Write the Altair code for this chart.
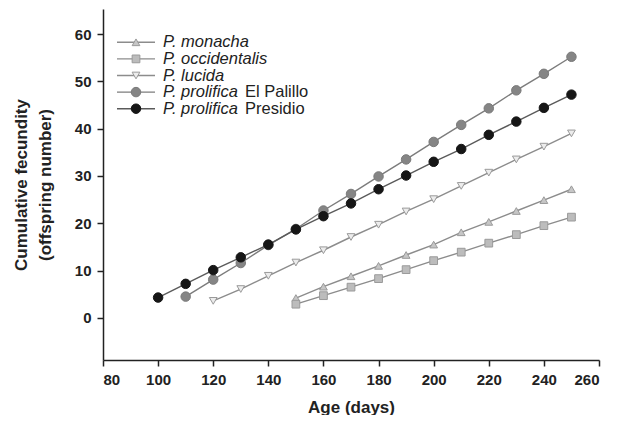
import altair as alt
import pandas as pd

# ---- data ----
series_names = [
    "P. monacha",
    "P. occidentalis",
    "P. lucida",
    "P. prolifica El Palillo",
    "P. prolifica Presidio",
]
italic_part = ["P. monacha", "P. occidentalis", "P. lucida", "P. prolifica", "P. prolifica"]
regular_part = ["", "", "", "El Palillo", "Presidio"]

monacha_days = [150, 160, 170, 180, 190, 200, 210, 220, 230, 240, 250]
monacha_vals = [4.2, 6.6, 8.8, 11.0, 13.3, 15.5, 18.1, 20.3, 22.6, 24.9, 27.2]

occidentalis_days = [150, 160, 170, 180, 190, 200, 210, 220, 230, 240, 250]
occidentalis_vals = [2.9, 4.7, 6.5, 8.3, 10.2, 12.1, 13.9, 15.8, 17.6, 19.5, 21.3]

lucida_days = [120, 130, 140, 150, 160, 170, 180, 190, 200, 210, 220, 230, 240, 250]
lucida_vals = [3.6, 6.1, 8.9, 11.7, 14.3, 17.1, 19.7, 22.5, 25.1, 27.9, 30.7, 33.5, 36.2, 39.0]

palillo_days = [110, 120, 130, 140, 150, 160, 170, 180, 190, 200, 210, 220, 230, 240, 250]
palillo_vals = [4.5, 8.1, 11.6, 15.4, 18.8, 22.7, 26.2, 29.9, 33.5, 37.2, 40.8, 44.3, 48.1, 51.6, 55.2]

presidio_days = [100, 110, 120, 130, 140, 150, 160, 170, 180, 190, 200, 210, 220, 230, 240, 250]
presidio_vals = [4.3, 7.2, 10.1, 12.8, 15.5, 18.7, 21.5, 24.2, 27.2, 30.1, 33.0, 35.7, 38.7, 41.5, 44.4, 47.2]

x_ticks = [80, 100, 120, 140, 160, 180, 200, 220, 240, 260]
y_ticks = [0, 10, 20, 30, 40, 50, 60]

# ---- styles ----
shapes = ["triangle-up", "square", "triangle-down", "circle", "circle"]
fills = ["#c6c6c6", "#bcbcbc", "#ececec", "#858585", "#161616"]
strokes = ["#9a9a9a", "#9a9a9a", "#9a9a9a", "#7a7a7a", "#161616"]
line_colors = ["#8c8c8c", "#8c8c8c", "#8c8c8c", "#7c7c7c", "#5a5a5a"]
sizes = [60, 60, 60, 90, 90]

all_days = [monacha_days, occidentalis_days, lucida_days, palillo_days, presidio_days]
all_vals = [monacha_vals, occidentalis_vals, lucida_vals, palillo_vals, presidio_vals]

FONT = "Liberation Sans"
W, H = 496, 351

x_scale = alt.Scale(domain=[80, 260], nice=False, zero=False)
y_scale = alt.Scale(domain=[-8.9, 65.3], nice=False, zero=False)

x_axis = alt.Axis(values=x_ticks, title="Age (days)", format="d")
y_axis = alt.Axis(values=y_ticks, title=["Cumulative fecundity", "(offspring number)"], format="d")

layers = []
for i, name in enumerate(series_names):
    df = pd.DataFrame({"day": all_days[i], "value": all_vals[i], "series": name})
    base = alt.Chart(df).encode(
        x=alt.X("day:Q", scale=x_scale, axis=x_axis),
        y=alt.Y("value:Q", scale=y_scale, axis=y_axis),
    )
    line = base.mark_line(color=line_colors[i], strokeWidth=1.4)
    pts = base.mark_point(
        shape=shapes[i], filled=True, fill=fills[i], stroke=strokes[i],
        strokeWidth=1, size=sizes[i], opacity=1,
    )
    layers += [line, pts]

series_layer = alt.layer(*layers)

# ---- legend (drawn inside the plot, top-left) ----
leg = pd.DataFrame({
    "series": series_names,
    "ital": italic_part,
    "reg": regular_part,
    "lc": line_colors,
})
leg_y = alt.Y("series:N", scale=alt.Scale(domain=series_names, range=[25, 108], type="point"), axis=None)
leg_base = alt.Chart(leg).encode(y=leg_y)
leg_line = leg_base.mark_rule(strokeWidth=1.4).encode(
    x=alt.value(14), x2=alt.value(52),
    color=alt.Color("lc:N", scale=None),
)
leg_pts = []
for i, name in enumerate(series_names):
    leg_pts.append(
        alt.Chart(leg[leg.series == name]).mark_point(
            shape=shapes[i], filled=True, fill=fills[i], stroke=strokes[i],
            strokeWidth=1, size=sizes[i], opacity=1,
        ).encode(x=alt.value(33), y=leg_y)
    )
leg_ital = leg_base.mark_text(
    align="left", baseline="middle", font=FONT, fontSize=16.5, fontStyle="italic", color="#222"
).encode(x=alt.value(60), text="ital:N")
leg_reg = alt.Chart(leg[leg.reg != ""]).mark_text(
    align="left", baseline="middle", font=FONT, fontSize=16.5, color="#222", dx=82
).encode(x=alt.value(60), y=leg_y, text="reg:N")

legend = alt.layer(leg_line, *leg_pts, leg_ital, leg_reg)

chart = alt.layer(series_layer, legend).resolve_scale(y="independent").properties(
    width=W, height=H,
    autosize=alt.AutoSizeParams(type="none"),
    padding={"left": 95, "top": 1, "right": 20, "bottom": 55},
).configure_view(stroke=None).configure_axis(
    grid=False,
    domainColor="#222", domainWidth=1.5,
    tickColor="#222", tickWidth=1.5, tickSize=6,
    labelFont=FONT, labelFontSize=15, labelFontWeight="bold", labelColor="#222",
    titleFont=FONT, titleFontSize=17, titleFontWeight="bold", titleColor="#222",
).configure_axisY(labelPadding=6, titlePadding=20, titleLineHeight=24).configure_axisX(
    labelPadding=6, titlePadding=12
)

chart.save("out.html", embed_options={"renderer": "svg", "actions": False})
